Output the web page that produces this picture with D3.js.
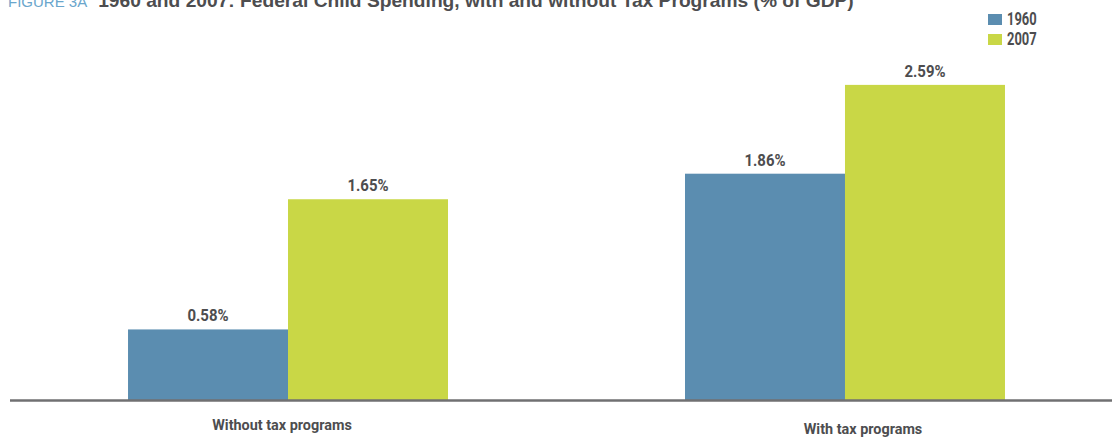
<!DOCTYPE html>
<html>
<head>
<meta charset="utf-8">
<script src="https://cdn.jsdelivr.net/npm/d3@7"></script>
<style>
  body { margin: 0; background: #fff; }
  .cond { font-family: Roboto, 'DejaVu Sans', sans-serif; font-weight: bold; }
</style>
</head>
<body>
<div id="chart"></div>
<script>
// Data
const categories = ['Without tax programs', 'With tax programs'];
const years = ['1960', '2007'];
const values1960 = [0.58, 1.86];
const values2007 = [1.65, 2.59];

const colors = ['#5b8db0', '#c9d746'];

// squeeze a text horizontally to mimic the condensed face of the original
function condense(sel, k) {
  sel.each(function () {
    const w = this.getComputedTextLength();
    d3.select(this)
      .attr('textLength', w * k)
      .attr('lengthAdjust', 'spacingAndGlyphs');
  });
}

document.addEventListener('DOMContentLoaded', function () {
  const svgWidth = 1112,
    svgHeight = 438;
  const baseY = 400;

  const data = categories.map((c, i) => ({
    category: c,
    values: [
      { year: years[0], value: values1960[i] },
      { year: years[1], value: values2007[i] },
    ],
  }));

  const svg = d3
    .select('#chart')
    .append('svg')
    .attr('width', svgWidth)
    .attr('height', svgHeight);

  const x = d3
    .scaleBand()
    .domain(categories)
    .range([9.5, 1123.5])
    .paddingInner(0.4255)
    .paddingOuter(0.2128);

  const x1 = d3
    .scaleBand()
    .domain(years)
    .range([0, x.bandwidth()]);

  const y = d3.scaleLinear().domain([0, 3]).range([baseY, 35]);

  const color = d3.scaleOrdinal().domain(years).range(colors);

  // Title (partly cut off at the top in the original)
  const title = svg
    .append('text')
    .attr('x', 8)
    .attr('y', 7)
    .style('font-family', "'Liberation Sans', Arial, sans-serif");
  title
    .append('tspan')
    .attr('fill', '#6aa6cc')
    .style('font-size', '15px')
    .text('FIGURE 3A');
  title
    .append('tspan')
    .attr('dx', 11)
    .attr('fill', '#4d4d4f')
    .style('font-weight', 'bold')
    .style('font-size', '19.2px')
    .text('1960 and 2007: Federal Child Spending, with and without Tax Programs (% of GDP)');

  // Bars
  const groups = svg
    .selectAll('.group')
    .data(data)
    .enter()
    .append('g')
    .attr('class', 'group')
    .attr('transform', (d) => `translate(${x(d.category)},0)`);

  groups
    .selectAll('rect')
    .data((d) => d.values)
    .enter()
    .append('rect')
    .attr('x', (d) => x1(d.year))
    .attr('y', (d) => y(d.value))
    .attr('width', x1.bandwidth())
    .attr('height', (d) => baseY - y(d.value))
    .attr('fill', (d) => color(d.year));

  // value labels
  groups
    .selectAll('.bar-label')
    .data((d) => d.values)
    .enter()
    .append('text')
    .attr('class', 'bar-label cond')
    .attr('x', (d) => x1(d.year) + x1.bandwidth() / 2)
    .attr('y', (d) => y(d.value) - 8)
    .attr('text-anchor', 'middle')
    .attr('fill', '#4d4d4f')
    .style('font-size', '17px')
    .text((d) => d.value.toFixed(2) + '%')
    .call(condense, 0.88);

  // x axis
  const xAxis = svg
    .append('g')
    .attr('transform', `translate(0,${baseY})`)
    .call(d3.axisBottom(x).tickSize(0).tickSizeOuter(0));

  xAxis.select('.domain').attr('stroke', '#707072').attr('stroke-width', 2.5);

  // small nudges so the category labels sit where the original has them
  const labelNudge = [
    { dx: -6, dy: 0 },
    { dx: 18, dy: 4 },
  ];
  xAxis
    .selectAll('.tick text')
    .attr('class', 'cond')
    .attr('fill', '#4d4d4f')
    .style('font-size', '15px')
    .attr('font-family', null)
    .attr('font-size', null)
    .attr('y', 0)
    .attr('dy', (d, i) => 30 + labelNudge[i].dy)
    .attr('dx', (d, i) => labelNudge[i].dx)
    .call(condense, 0.96);

  // Legend
  const legend = svg
    .append('g')
    .selectAll('g')
    .data(years)
    .enter()
    .append('g')
    .attr('transform', (d, i) => `translate(988,${14 + i * 20})`);

  legend
    .append('rect')
    .attr('width', 14)
    .attr('height', 11)
    .attr('fill', (d) => color(d));

  legend
    .append('text')
    .attr('class', 'cond')
    .attr('x', 19)
    .attr('y', 11)
    .attr('fill', '#4d4d4f')
    .style('font-size', '18px')
    .text((d) => d)
    .call(condense, 0.72);
});
</script>
</body>
</html>
